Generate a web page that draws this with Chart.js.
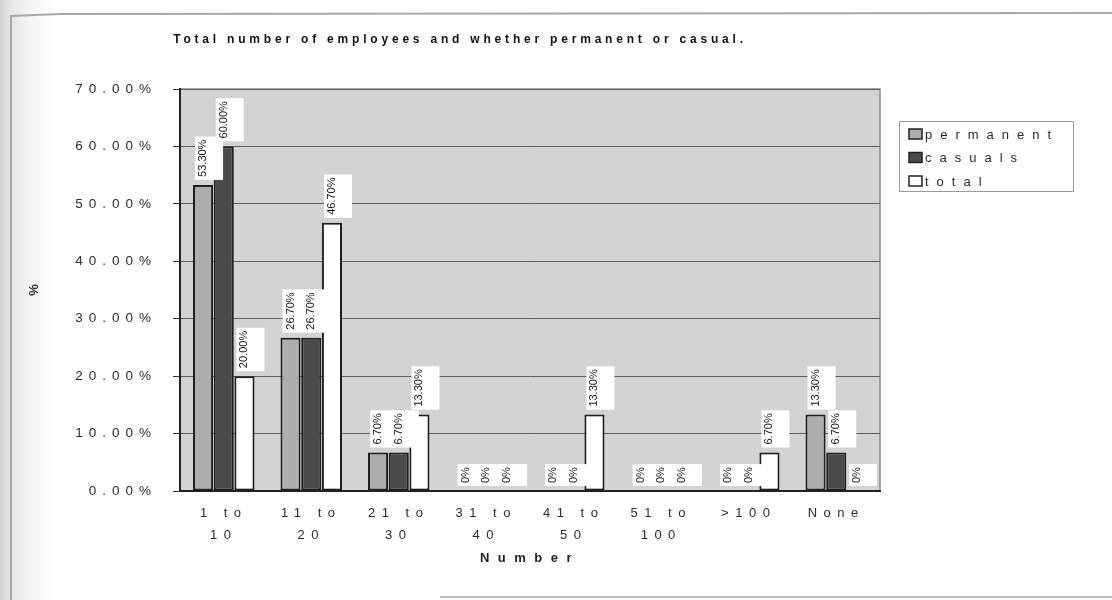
<!DOCTYPE html>
<html>
<head>
<meta charset="utf-8">
<title>Employees: permanent or casual</title>
<script src="https://cdn.jsdelivr.net/npm/chart.js@4.4.1/dist/chart.umd.min.js"></script>
<style>
  html, body { margin: 0; padding: 0; background: #ffffff; }
  #wrap { width: 1112px; height: 600px; position: relative; }
</style>
</head>
<body>
<div id="wrap"><canvas id="chart" width="1112" height="600"></canvas></div>
<script>
// ---- data ----
const titleText = 'Total number of employees and whether permanent or casual.';
const categories = [['1 to', '10'], ['11 to', '20'], ['21 to', '30'], ['31 to', '40'],
                    ['41 to', '50'], ['51 to', '100'], '>100', 'None'];
const seriesNames = ['permanent', 'casuals', 'total'];
const permanent = [53.3, 26.7, 6.7, 0, 0, 0, 0, 13.3];
const casuals   = [60.0, 26.7, 6.7, 0, 0, 0, 0, 6.7];
const total     = [20.0, 46.7, 13.3, 0, 13.3, 0, 6.7, 0];
const yTickValues = [0, 10, 20, 30, 40, 50, 60, 70];
const xTitle = 'Number';
const yTitle = '%';

const FONT = "'Liberation Sans', Arial, sans-serif";

function pctLabel(v) { return v === 0 ? '0%' : v.toFixed(2) + '%'; }

// Wraps a draw method so the text it renders gets extra letter spacing.
function withSpacing(obj, method, spacing) {
  if (!obj || obj['__spaced_' + method]) return;
  const base = obj[method];
  obj[method] = function (...args) {
    const ctx = this.ctx;
    const prev = ctx.letterSpacing;
    ctx.letterSpacing = spacing;
    try { return base.apply(this, args); } finally { ctx.letterSpacing = prev; }
  };
  obj['__spaced_' + method] = true;
}

const spacingPlugin = {
  id: 'spacing',
  beforeDraw(chart) {
    withSpacing(chart.titleBlock, 'draw', '3.8px');
    withSpacing(chart.scales.y, 'drawLabels', '6px');
    withSpacing(chart.scales.x, 'drawLabels', '6.5px');
    withSpacing(chart.scales.x, 'drawTitle', '8.5px');
  }
};

// Page frame and grey plot background.
const backdropPlugin = {
  id: 'backdrop',
  beforeDraw(chart) {
    const { ctx, chartArea: a } = chart;
    ctx.save();
    ctx.fillStyle = '#ffffff';
    ctx.fillRect(0, 0, chart.width, chart.height);
    const edge = ctx.createLinearGradient(0, 0, 70, 0);
    edge.addColorStop(0, '#d4d4d4');
    edge.addColorStop(0.15, '#e6e6e6');
    edge.addColorStop(1, 'rgba(255,255,255,0)');
    ctx.fillStyle = edge;
    ctx.fillRect(0, 0, 70, chart.height);
    ctx.strokeStyle = '#a8a8a8';
    ctx.lineWidth = 2;
    ctx.beginPath();
    ctx.moveTo(11, chart.height);
    ctx.lineTo(11, 16);
    ctx.lineTo(60, 14);
    ctx.lineTo(chart.width, 13);
    ctx.stroke();
    ctx.strokeStyle = '#bdbdbd';
    ctx.beginPath();
    ctx.moveTo(440, 597);
    ctx.lineTo(chart.width, 597);
    ctx.stroke();
    ctx.fillStyle = '#d3d3d3';
    ctx.fillRect(a.left, a.top, a.right - a.left, a.bottom - a.top);
    ctx.strokeStyle = '#8c8c8c';
    ctx.lineWidth = 1.5;
    ctx.strokeRect(a.left, a.top, a.right - a.left, a.bottom - a.top);
    ctx.restore();
  }
};

// Vertical value labels above every bar, on white boxes.
const valueLabelPlugin = {
  id: 'valueLabels',
  afterDatasetsDraw(chart) {
    const ctx = chart.ctx;
    chart.data.datasets.forEach((ds, i) => {
      const meta = chart.getDatasetMeta(i);
      meta.data.forEach((bar, j) => {
        const txt = pctLabel(ds.data[j]);
        ctx.save();
        ctx.letterSpacing = '0px';
        ctx.font = '11px ' + FONT;
        const w = ctx.measureText(txt).width;
        ctx.translate(bar.x, bar.y - 8);
        ctx.rotate(-Math.PI / 2);
        ctx.fillStyle = '#ffffff';
        ctx.fillRect(-3, -8, w + 6, 28);
        ctx.fillStyle = '#181818';
        ctx.textAlign = 'left';
        ctx.textBaseline = 'middle';
        ctx.fillText(txt, 0, 0);
        ctx.restore();
      });
    });
  }
};

// Boxed legend to the right of the plot.
const boxLegendPlugin = {
  id: 'boxLegend',
  afterDraw(chart) {
    const ctx = chart.ctx;
    const x = 899, y = 121, w = 174, h = 70;
    ctx.save();
    ctx.fillStyle = '#ffffff';
    ctx.fillRect(x, y, w, h);
    ctx.strokeStyle = '#9a9a9a';
    ctx.lineWidth = 1;
    ctx.strokeRect(x + 0.5, y + 0.5, w, h);
    ctx.font = '13px ' + FONT;
    ctx.letterSpacing = '8px';
    ctx.textBaseline = 'middle';
    ctx.textAlign = 'left';
    chart.data.datasets.forEach((ds, i) => {
      const cy = y + 13 + i * 23.5;
      ctx.fillStyle = ds.backgroundColor;
      ctx.fillRect(909, cy - 5, 13, 10);
      ctx.strokeStyle = '#222222';
      ctx.lineWidth = 1.5;
      ctx.strokeRect(909, cy - 5, 13, 10);
      ctx.fillStyle = '#2a2a2a';
      ctx.fillText(ds.label, 925, cy + 1);
    });
    ctx.restore();
  }
};

const barStyle = { borderColor: '#1e1e1e', borderWidth: 2, borderSkipped: false,
                   categoryPercentage: 0.71, barPercentage: 0.97 };

new Chart(document.getElementById('chart'), {
  type: 'bar',
  data: {
    labels: categories,
    datasets: [
      { label: seriesNames[0], data: permanent, backgroundColor: '#adadad', ...barStyle },
      { label: seriesNames[1], data: casuals,   backgroundColor: '#4b4b4b', ...barStyle },
      { label: seriesNames[2], data: total,     backgroundColor: '#ffffff', ...barStyle }
    ]
  },
  options: {
    responsive: false,
    devicePixelRatio: 1,
    animation: false,
    layout: { padding: { top: 20, left: 40, right: 232, bottom: 30 } },
    plugins: {
      legend: { display: false },
      tooltip: { enabled: false },
      title: {
        display: true,
        text: titleText,
        color: '#111111',
        font: { family: FONT, size: 12, weight: 'bold', lineHeight: 1.2 },
        padding: { top: 12.8, bottom: 41.8 }
      }
    },
    scales: {
      x: {
        grid: { display: false, drawTicks: false },
        border: { display: true, color: '#222222', width: 2 },
        ticks: {
          autoSkip: false, maxRotation: 0, minRotation: 0, padding: 11,
          color: '#2c2c2c',
          font: { family: FONT, size: 13, lineHeight: 1.7 }
        },
        title: {
          display: true, text: xTitle, color: '#1f1f1f',
          font: { family: FONT, size: 13, weight: 'bold', lineHeight: 1.2 },
          padding: { top: 4.2, bottom: 4.2 }
        },
        afterFit(scale) { scale.height = 79; }
      },
      y: {
        min: 0, max: 70,
        afterBuildTicks(scale) { scale.ticks = yTickValues.map(v => ({ value: v })); },
        grid: { color: '#5e5e5e', lineWidth: 1, drawTicks: true, tickLength: 7, tickColor: '#333333' },
        border: { display: true, color: '#222222', width: 2 },
        ticks: {
          padding: 16, color: '#2c2c2c',
          font: { family: FONT, size: 13.5 },
          callback: (v) => v.toFixed(2) + '%'
        },
        title: {
          display: true, text: yTitle, color: '#2a2a2a',
          font: { family: FONT, size: 13, weight: 'bold', lineHeight: 1.2 },
          padding: { top: -13.8, bottom: 0 }
        },
        afterFit(scale) { scale.width = 140; }
      }
    }
  },
  plugins: [backdropPlugin, spacingPlugin, valueLabelPlugin, boxLegendPlugin]
});
</script>
</body>
</html>
